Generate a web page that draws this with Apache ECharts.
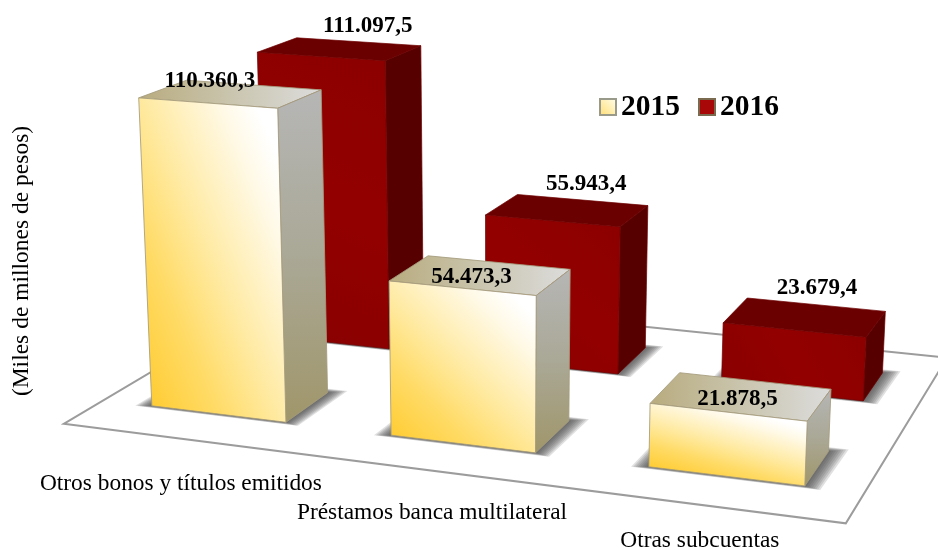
<!doctype html>
<html><head><meta charset="utf-8"><style>html,body{margin:0;padding:0;background:#fff}#c{width:938px;height:550px}</style>
<script src="https://cdn.jsdelivr.net/npm/echarts@6/dist/echarts.min.js"></script></head><body><div id="c"></div>
<script>
// ---- data ----
const categories = ['Otros bonos y títulos emitidos', 'Préstamos banca multilateral', 'Otras subcuentas'];
const seriesNames = ['2015', '2016'];
const values2015 = [110360.3, 54473.3, 21878.5];
const values2016 = [111097.5, 55943.4, 23679.4];
const valueLabels2015 = ['110.360,3', '54.473,3', '21.878,5'];
const valueLabels2016 = ['111.097,5', '55.943,4', '23.679,4'];
const yAxisTitle = '(Miles de millones de pesos)';

// ---- layout: perspective camera for the fake-3D scene ----
const CAM = [225.2067,140.3888,-16.48402,151.8519,13.71035,-36.59759,-282.2734,405.8193,-0.03592686,0.1012256,-0.03305612];
const BAR_W = 0.569452, BAR_D = 0.38;
const FLOOR = {u0:-0.209, u1:2.78, v0:-0.303, v1:1.675};
const Y_MAX = 120000, GRID = {left:60, right:0, top:20, bottom:48};
const CAT_LABEL_POS = [[0.509,-0.728],[1.44,-0.688],[2.362,-0.623]];
const LABEL_OFFSET = {0:[[-21,-13],[-9,2],[-4,3]],1:[[28,-23],[19,-26],[12,-29]]};
const SHADOW_LAYERS = 8;
const FONT = '"Liberation Serif","Times New Roman",serif';

function project(u,v,h){
  const p=CAM, w=p[8]*u+p[9]*v+p[10]*h+1;
  return [(p[0]*u+p[1]*v+p[2]*h+p[3])/w,(p[4]*u+p[5]*v+p[6]*h+p[7])/w];
}
const LG=(x,y,x2,y2,st,g)=>new echarts.graphic.LinearGradient(x,y,x2,y2,st.map(c=>({offset:c[0],color:c[1]})),!!g);
// gradient whose mid line runs along the face's TL-BR diagonal, from BL to TR
function diagGradient(tl,tr,br,bl,stops){
  const w=tr[0]-bl[0], h=bl[1]-tr[1], n=Math.hypot(w,h), dx=h/n, dy=-w/n;
  const L=(tr[0]-bl[0])*dx+(tr[1]-bl[1])*dy;
  return LG(bl[0],bl[1],bl[0]+dx*L,bl[1]+dy*L,stops,true);
}
const SKIN = [
 { front:(a,b,c,d)=>diagGradient(a,b,c,d,[[0,'#FFCC34'],[.25,'#FFDB66'],[.5,'#FFEBA6'],[.78,'#FFF9E6'],[.92,'#FFFFFF'],[1,'#FFFFFF']]),
   side:()=>LG(0,0,0,1,[[0,'#B6B6B6'],[.5,'#AAA896'],[1,'#A0966A']]),
   top:()=>LG(0,0,1,0,[[0,'#B8AB7E'],[.55,'#CBC7B2'],[1,'#DCDCDC']]),
   stroke:'rgba(165,155,125,.85)' },
 { front:()=>LG(0,1,1,0,[[0,'#880000'],[.5,'#930000'],[1,'#8C0000']]),
   side:()=>'#560000', top:()=>'#6A0000', stroke:'rgba(110,0,0,.7)' }
];

function barRenderer(s, labels){
  return function(params, api){
    const i=api.value(0), val=api.value(1), cs=params.coordSys;
    const pt=api.coord([i,val]);
    const band=cs.width/categories.length;
    const uBase=(pt[0]-cs.x)/band-0.5;
    const h=(cs.y+cs.height-pt[1])/cs.height*Y_MAX/1e5;
    const u0=uBase,u1=uBase+BAR_W,v0=s,v1=s+BAR_D;
    const skin=SKIN[s];
    const poly=(pts,fill)=>({type:'polygon',shape:{points:pts},style:{fill:fill,stroke:skin.stroke,lineWidth:1,lineJoin:'round'}});
    const kids=[];
    for(let k=SHADOW_LAYERS;k>=1;k--){
      const t=k/SHADOW_LAYERS;
      kids.push({type:'polygon',shape:{points:[project(u0-.06*t,v0-.022*t,0),project(u1+.06*t,v0-.022*t,0),project(u1+.065*t,v1+.045*t,0),project(u0-.055*t,v1+.045*t,0)]},
        style:{fill:'rgba(70,70,70,.17)'}});
    }
    const fa=project(u0,v0,h),fb=project(u1,v0,h),fc=project(u1,v0,0),fd=project(u0,v0,0);
    kids.push(poly([project(u0,v1,h),project(u1,v1,h),fb,fa],skin.top()));
    kids.push(poly([fb,project(u1,v1,h),project(u1,v1,0),fc],skin.side()));
    kids.push(poly([fa,fb,fc,fd],skin.front(fa,fb,fc,fd)));
    const tc=project((u0+u1)/2,(v0+v1)/2,h), off=LABEL_OFFSET[s][i];
    kids.push({type:'text',style:{text:labels[i],x:tc[0]+off[0],y:tc[1]+off[1],align:'center',verticalAlign:'middle',font:'bold 23px '+FONT,fill:'#000'}});
    if(s===0){
      const q=project(CAT_LABEL_POS[i][0],CAT_LABEL_POS[i][1],0);
      kids.push({type:'text',style:{text:categories[i],x:q[0],y:q[1],align:'center',verticalAlign:'middle',font:'23.4px '+FONT,fill:'#000'}});
    }
    return {type:'group',children:kids};
  };
}
function floorRenderer(){
  const f=FLOOR;
  return {type:'polygon',shape:{points:[project(f.u0,f.v0,0),project(f.u1,f.v0,0),project(f.u1,f.v1,0),project(f.u0,f.v1,0)]},
    style:{fill:'#fff',stroke:'#9C9C9C',lineWidth:2,lineJoin:'miter'}};
}
const chart=echarts.init(document.getElementById('c'));
chart.setOption({
  animation:false, backgroundColor:'#fff',
  grid:GRID,
  xAxis:{type:'category',data:categories,axisLine:{show:false},axisTick:{show:false},axisLabel:{show:false},splitLine:{show:false}},
  yAxis:{type:'value',min:0,max:Y_MAX,name:yAxisTitle,nameLocation:'middle',nameRotate:90,nameGap:26,
    nameTextStyle:{fontFamily:FONT,fontSize:23.5,color:'#000'},
    axisLine:{show:false},axisTick:{show:false},axisLabel:{show:false},splitLine:{show:false}},
  legend:{left:594,top:87,itemWidth:16,itemHeight:16,itemGap:18,selectedMode:false,
    textStyle:{fontFamily:FONT,fontSize:29.5,fontWeight:'bold',color:'#000'},
    data:[
      {name:seriesNames[0],icon:'rect',itemStyle:{color:LG(0,1,1,0,[[0,'#FFDD70'],[1,'#FFFFF0']]),borderColor:'#9A9A8A',borderWidth:2}},
      {name:seriesNames[1],icon:'rect',itemStyle:{color:'#A80808',borderColor:'#7A6A50',borderWidth:2}}
    ]},
  series:[
    {type:'custom',name:'floor',z:1,silent:true,renderItem:floorRenderer,data:[[0,0]],clip:false},
    {type:'custom',name:seriesNames[1],z:2,clip:false,renderItem:barRenderer(1,valueLabels2016),data:values2016.map((v,i)=>[i,v])},
    {type:'custom',name:seriesNames[0],z:3,clip:false,renderItem:barRenderer(0,valueLabels2015),data:values2015.map((v,i)=>[i,v])}
  ]
});
</script></body></html>
